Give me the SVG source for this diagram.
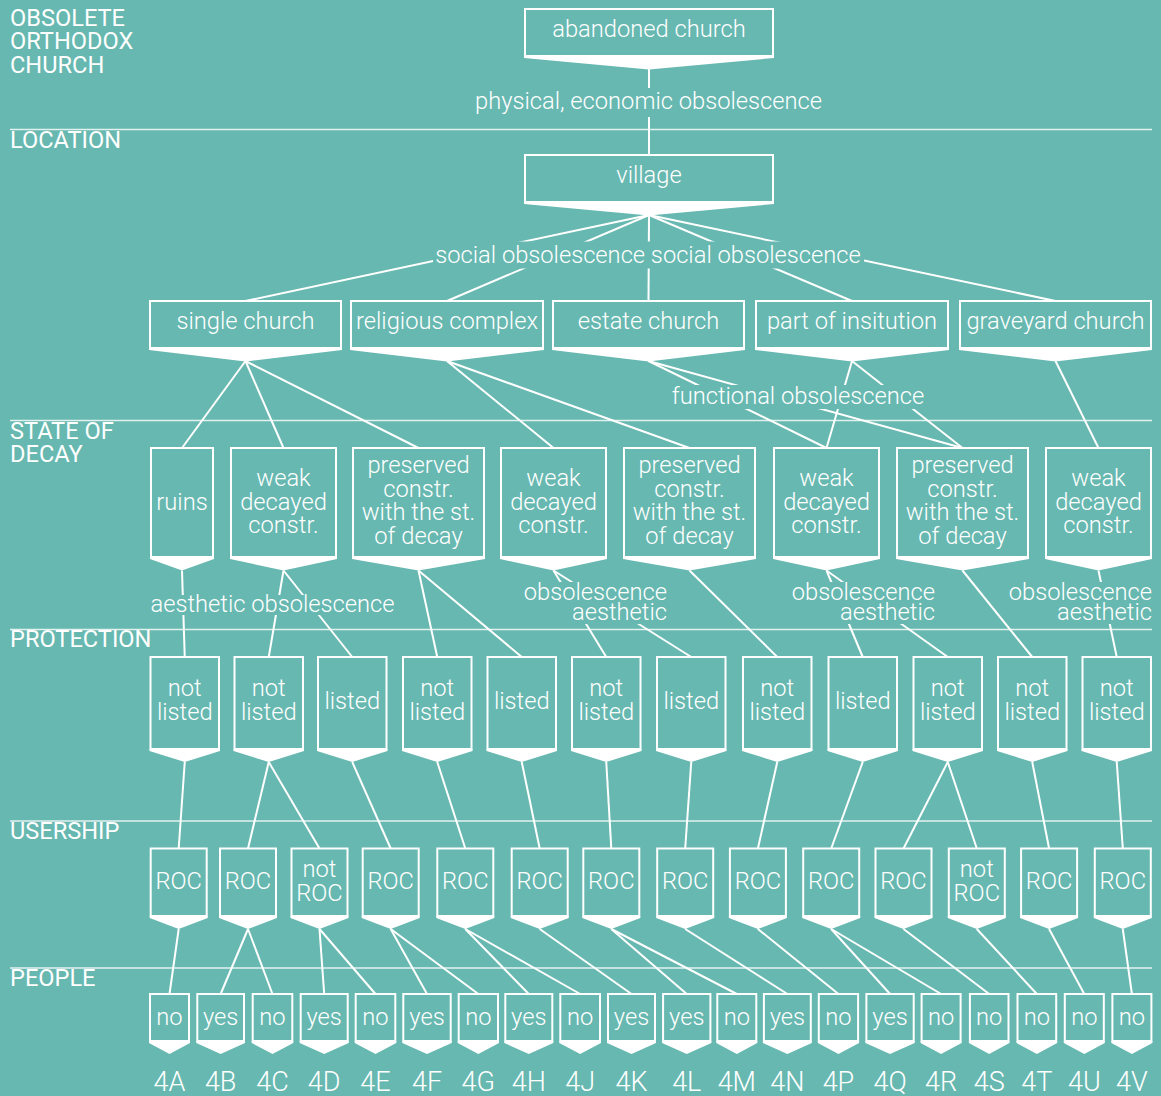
<svg xmlns="http://www.w3.org/2000/svg" width="1161" height="1096" viewBox="0 0 1161 1096">
  <style>
    .bg { fill: #67b8b0; }
    .rule { stroke: #ffffff; stroke-opacity: 0.8; stroke-width: 1.5; }
    .box { fill: none; stroke: #ffffff; stroke-width: 2; }
    .tip { fill: #ffffff; }
    .c line { stroke: #ffffff; stroke-width: 2; }
    .ko { fill: #67b8b0; }
    text { font-family: Roboto, "Liberation Sans", sans-serif; fill: #ffffff; }
    .sec { font-size: 23.6px; font-weight: 400; }
    .t { font-size: 23.7px; font-weight: 300; text-anchor: middle; }
    .el { font-size: 23.7px; font-weight: 300; }
    .code { font-size: 27px; font-weight: 300; text-anchor: middle; }
  </style>

  <rect class="bg" x="0" y="0" width="1161" height="1096"/>

  <!-- level rules and level names -->
  <g id="levels">
    <line class="rule" x1="10" y1="129.5" x2="1152" y2="129.5"/>
    <line class="rule" x1="10" y1="420.5" x2="1152" y2="420.5"/>
    <line class="rule" x1="10" y1="629.5" x2="1152" y2="629.5"/>
    <line class="rule" x1="10" y1="821" x2="1152" y2="821"/>
    <line class="rule" x1="10" y1="968" x2="1152" y2="968"/>
    <text class="sec" x="10" y="25.5">OBSOLETE</text>
    <text class="sec" x="10" y="49">ORTHODOX</text>
    <text class="sec" x="10" y="72.5">CHURCH</text>
    <text class="sec" x="10" y="148">LOCATION</text>
    <text class="sec" x="10" y="438.5">STATE OF</text>
    <text class="sec" x="10" y="462">DECAY</text>
    <text class="sec" x="10" y="647">PROTECTION</text>
    <text class="sec" x="10" y="838.5">USERSHIP</text>
    <text class="sec" x="10" y="985.5">PEOPLE</text>
  </g>

  <!-- connectors -->
  <g id="connectors" class="c">
    <line x1="649" y1="69" x2="649" y2="155"/>

    <line x1="649" y1="215" x2="245.5" y2="301"/>
    <line x1="649" y1="215" x2="447" y2="301"/>
    <line x1="649" y1="215" x2="648.5" y2="301"/>
    <line x1="649" y1="215" x2="852" y2="301"/>
    <line x1="649" y1="215" x2="1055.5" y2="301"/>

    <line x1="245.5" y1="361" x2="182" y2="448"/>
    <line x1="245.5" y1="361" x2="283.5" y2="448"/>
    <line x1="245.5" y1="361" x2="418.5" y2="448"/>
    <line x1="447" y1="361" x2="553.5" y2="448"/>
    <line x1="447" y1="361" x2="689.5" y2="448"/>
    <line x1="648.5" y1="361" x2="826.5" y2="448"/>
    <line x1="648.5" y1="361" x2="962.5" y2="448"/>
    <line x1="852" y1="361" x2="826.5" y2="448"/>
    <line x1="852" y1="361" x2="962.5" y2="448"/>
    <line x1="1055.5" y1="361" x2="1098.5" y2="448"/>

    <line x1="182" y1="570.5" x2="184.75" y2="657"/>
    <line x1="283.5" y1="570.5" x2="268.75" y2="657"/>
    <line x1="283.5" y1="570.5" x2="352.25" y2="657"/>
    <line x1="418.5" y1="570.5" x2="437.25" y2="657"/>
    <line x1="418.5" y1="570.5" x2="521.75" y2="657"/>
    <line x1="553.5" y1="570.5" x2="606.25" y2="657"/>
    <line x1="553.5" y1="570.5" x2="691.25" y2="657"/>
    <line x1="689.5" y1="570.5" x2="777.25" y2="657"/>
    <line x1="826.5" y1="570.5" x2="862.75" y2="657"/>
    <line x1="826.5" y1="570.5" x2="947.75" y2="657"/>
    <line x1="962.5" y1="570.5" x2="1032.25" y2="657"/>
    <line x1="1098.5" y1="570.5" x2="1116.75" y2="657"/>

    <line x1="184.75" y1="762" x2="178.7" y2="848.5"/>
    <line x1="268.75" y1="762" x2="248" y2="848.5"/>
    <line x1="268.75" y1="762" x2="319.5" y2="848.5"/>
    <line x1="352.25" y1="762" x2="390.7" y2="848.5"/>
    <line x1="437.25" y1="762" x2="465.3" y2="848.5"/>
    <line x1="521.75" y1="762" x2="539.7" y2="848.5"/>
    <line x1="606.25" y1="762" x2="611.3" y2="848.5"/>
    <line x1="691.25" y1="762" x2="685.2" y2="848.5"/>
    <line x1="777.25" y1="762" x2="757.9" y2="848.5"/>
    <line x1="862.75" y1="762" x2="831.2" y2="848.5"/>
    <line x1="947.75" y1="762" x2="903.5" y2="848.5"/>
    <line x1="947.75" y1="762" x2="976.8" y2="848.5"/>
    <line x1="1032.25" y1="762" x2="1049.1" y2="848.5"/>
    <line x1="1116.75" y1="762" x2="1122.8" y2="848.5"/>

    <line x1="178.7" y1="929" x2="169.5" y2="994"/>
    <line x1="248" y1="929" x2="220.65" y2="994"/>
    <line x1="248" y1="929" x2="272.5" y2="994"/>
    <line x1="319.5" y1="929" x2="324.2" y2="994"/>
    <line x1="319.5" y1="929" x2="375.5" y2="994"/>
    <line x1="390.7" y1="929" x2="427" y2="994"/>
    <line x1="390.7" y1="929" x2="478.35" y2="994"/>
    <line x1="465.3" y1="929" x2="528.8" y2="994"/>
    <line x1="465.3" y1="929" x2="580.15" y2="994"/>
    <line x1="539.7" y1="929" x2="631.5" y2="994"/>
    <line x1="611.3" y1="929" x2="686.75" y2="994"/>
    <line x1="611.3" y1="929" x2="736.8" y2="994"/>
    <line x1="685.2" y1="929" x2="787.35" y2="994"/>
    <line x1="757.9" y1="929" x2="838.45" y2="994"/>
    <line x1="831.2" y1="929" x2="890.05" y2="994"/>
    <line x1="831.2" y1="929" x2="941.1" y2="994"/>
    <line x1="903.5" y1="929" x2="989.2" y2="994"/>
    <line x1="976.8" y1="929" x2="1036.85" y2="994"/>
    <line x1="1049.1" y1="929" x2="1084.3" y2="994"/>
    <line x1="1122.8" y1="929" x2="1131.9" y2="994"/>
  </g>

  <!-- connector labels, each on a cut-out of the background -->
  <g id="connector-labels">
    <rect class="ko" x="474" y="88" width="349" height="29"/>
    <text class="el" x="648.5" y="109" text-anchor="middle">physical, economic obsolescence</text>

    <rect class="ko" x="433" y="241.5" width="431" height="27"/>
    <text class="el" x="648" y="263" text-anchor="middle">social obsolescence social obsolescence</text>

    <rect class="ko" x="671" y="385" width="254" height="24"/>
    <text class="el" x="798" y="404" text-anchor="middle">functional obsolescence</text>

    <rect class="ko" x="149" y="595" width="248" height="20"/>
    <text class="el" x="272.5" y="612" text-anchor="middle">aesthetic obsolescence</text>

    <rect class="ko" x="522" y="582" width="147" height="21"/>
    <rect class="ko" x="570" y="603" width="99" height="21"/>
    <text class="el" x="667" y="600" text-anchor="end">obsolescence</text>
    <text class="el" x="667" y="620" text-anchor="end">aesthetic</text>

    <rect class="ko" x="791" y="582" width="146" height="21"/>
    <rect class="ko" x="839" y="603" width="98" height="21"/>
    <text class="el" x="935" y="600" text-anchor="end">obsolescence</text>
    <text class="el" x="935" y="620" text-anchor="end">aesthetic</text>

    <rect class="ko" x="1008" y="582" width="146" height="21"/>
    <rect class="ko" x="1056" y="603" width="98" height="21"/>
    <text class="el" x="1152" y="600" text-anchor="end">obsolescence</text>
    <text class="el" x="1152" y="620" text-anchor="end">aesthetic</text>
  </g>

  <!-- OBSOLETE ORTHODOX CHURCH -->
  <g id="abandoned-church">
    <rect class="box" x="525" y="9" width="248" height="47"/>
    <polygon class="tip" points="524,56 774,56 774,58 649,69.5 524,58"/>
    <text class="t" x="649" y="37">abandoned church</text>
  </g>

  <!-- LOCATION -->
  <g id="village">
    <rect class="box" x="525" y="155" width="248" height="47"/>
    <polygon class="tip" points="524,202 774,202 774,204 649,215.5 524,204"/>
    <text class="t" x="649" y="183">village</text>
  </g>

  <g id="single-church">
    <rect class="box" x="150" y="301" width="191" height="47"/>
    <polygon class="tip" points="149,348 342,348 342,350 245.5,361.5 149,350"/>
    <text class="t" x="245.5" y="329">single church</text>
  </g>
  <g id="religious-complex">
    <rect class="box" x="351" y="301" width="192" height="47"/>
    <polygon class="tip" points="350,348 544,348 544,350 447,361.5 350,350"/>
    <text class="t" x="447" y="329">religious complex</text>
  </g>
  <g id="estate-church">
    <rect class="box" x="553" y="301" width="191" height="47"/>
    <polygon class="tip" points="552,348 745,348 745,350 648.5,361.5 552,350"/>
    <text class="t" x="648.5" y="329">estate church</text>
  </g>
  <g id="part-of-institution">
    <rect class="box" x="756" y="301" width="192" height="47"/>
    <polygon class="tip" points="755,348 949,348 949,350 852,361.5 755,350"/>
    <text class="t" x="852" y="329">part of insitution</text>
  </g>
  <g id="graveyard-church">
    <rect class="box" x="960" y="301" width="191" height="47"/>
    <polygon class="tip" points="959,348 1152,348 1152,350 1055.5,361.5 959,350"/>
    <text class="t" x="1055.5" y="329">graveyard church</text>
  </g>

  <!-- STATE OF DECAY -->
  <g id="ruins">
    <rect class="box" x="151" y="448" width="62" height="109"/>
    <polygon class="tip" points="150,557 214,557 214,559 182,570.5 150,559"/>
    <text class="t" x="182" y="509.5">ruins</text>
  </g>
  <g id="weak-1">
    <rect class="box" x="231" y="448" width="105" height="109"/>
    <polygon class="tip" points="230,557 337,557 337,559 283.5,570.5 230,559"/>
    <text class="t" x="283.5" y="486">weak<tspan x="283.5" y="509.5">decayed</tspan><tspan x="283.5" y="533">constr.</tspan></text>
  </g>
  <g id="preserved-1">
    <rect class="box" x="353" y="448" width="131" height="109"/>
    <polygon class="tip" points="352,557 485,557 485,559 418.5,570.5 352,559"/>
    <text class="t" x="418.5" y="473">preserved<tspan x="418.5" y="496.5">constr.</tspan><tspan x="418.5" y="520">with the st.</tspan><tspan x="418.5" y="543.5">of decay</tspan></text>
  </g>
  <g id="weak-2">
    <rect class="box" x="501" y="448" width="105" height="109"/>
    <polygon class="tip" points="500,557 607,557 607,559 553.5,570.5 500,559"/>
    <text class="t" x="553.5" y="486">weak<tspan x="553.5" y="509.5">decayed</tspan><tspan x="553.5" y="533">constr.</tspan></text>
  </g>
  <g id="preserved-2">
    <rect class="box" x="624" y="448" width="131" height="109"/>
    <polygon class="tip" points="623,557 756,557 756,559 689.5,570.5 623,559"/>
    <text class="t" x="689.5" y="473">preserved<tspan x="689.5" y="496.5">constr.</tspan><tspan x="689.5" y="520">with the st.</tspan><tspan x="689.5" y="543.5">of decay</tspan></text>
  </g>
  <g id="weak-3">
    <rect class="box" x="774" y="448" width="105" height="109"/>
    <polygon class="tip" points="773,557 880,557 880,559 826.5,570.5 773,559"/>
    <text class="t" x="826.5" y="486">weak<tspan x="826.5" y="509.5">decayed</tspan><tspan x="826.5" y="533">constr.</tspan></text>
  </g>
  <g id="preserved-3">
    <rect class="box" x="897" y="448" width="131" height="109"/>
    <polygon class="tip" points="896,557 1029,557 1029,559 962.5,570.5 896,559"/>
    <text class="t" x="962.5" y="473">preserved<tspan x="962.5" y="496.5">constr.</tspan><tspan x="962.5" y="520">with the st.</tspan><tspan x="962.5" y="543.5">of decay</tspan></text>
  </g>
  <g id="weak-4">
    <rect class="box" x="1046" y="448" width="105" height="109"/>
    <polygon class="tip" points="1045,557 1152,557 1152,559 1098.5,570.5 1045,559"/>
    <text class="t" x="1098.5" y="486">weak<tspan x="1098.5" y="509.5">decayed</tspan><tspan x="1098.5" y="533">constr.</tspan></text>
  </g>

  <!-- PROTECTION -->
  <g id="protection-1">
    <rect class="box" x="150.5" y="657" width="68.5" height="92"/>
    <polygon class="tip" points="149.5,749 220,749 220,751 184.75,762 149.5,751"/>
    <text class="t" x="184.75" y="696">not<tspan x="184.75" y="719.5">listed</tspan></text>
  </g>
  <g id="protection-2">
    <rect class="box" x="234.5" y="657" width="68.5" height="92"/>
    <polygon class="tip" points="233.5,749 304,749 304,751 268.75,762 233.5,751"/>
    <text class="t" x="268.75" y="696">not<tspan x="268.75" y="719.5">listed</tspan></text>
  </g>
  <g id="protection-3">
    <rect class="box" x="318" y="657" width="68.5" height="92"/>
    <polygon class="tip" points="317,749 387.5,749 387.5,751 352.25,762 317,751"/>
    <text class="t" x="352.25" y="709">listed</text>
  </g>
  <g id="protection-4">
    <rect class="box" x="403" y="657" width="68.5" height="92"/>
    <polygon class="tip" points="402,749 472.5,749 472.5,751 437.25,762 402,751"/>
    <text class="t" x="437.25" y="696">not<tspan x="437.25" y="719.5">listed</tspan></text>
  </g>
  <g id="protection-5">
    <rect class="box" x="487.5" y="657" width="68.5" height="92"/>
    <polygon class="tip" points="486.5,749 557,749 557,751 521.75,762 486.5,751"/>
    <text class="t" x="521.75" y="709">listed</text>
  </g>
  <g id="protection-6">
    <rect class="box" x="572" y="657" width="68.5" height="92"/>
    <polygon class="tip" points="571,749 641.5,749 641.5,751 606.25,762 571,751"/>
    <text class="t" x="606.25" y="696">not<tspan x="606.25" y="719.5">listed</tspan></text>
  </g>
  <g id="protection-7">
    <rect class="box" x="657" y="657" width="68.5" height="92"/>
    <polygon class="tip" points="656,749 726.5,749 726.5,751 691.25,762 656,751"/>
    <text class="t" x="691.25" y="709">listed</text>
  </g>
  <g id="protection-8">
    <rect class="box" x="743" y="657" width="68.5" height="92"/>
    <polygon class="tip" points="742,749 812.5,749 812.5,751 777.25,762 742,751"/>
    <text class="t" x="777.25" y="696">not<tspan x="777.25" y="719.5">listed</tspan></text>
  </g>
  <g id="protection-9">
    <rect class="box" x="828.5" y="657" width="68.5" height="92"/>
    <polygon class="tip" points="827.5,749 898,749 898,751 862.75,762 827.5,751"/>
    <text class="t" x="862.75" y="709">listed</text>
  </g>
  <g id="protection-10">
    <rect class="box" x="913.5" y="657" width="68.5" height="92"/>
    <polygon class="tip" points="912.5,749 983,749 983,751 947.75,762 912.5,751"/>
    <text class="t" x="947.75" y="696">not<tspan x="947.75" y="719.5">listed</tspan></text>
  </g>
  <g id="protection-11">
    <rect class="box" x="998" y="657" width="68.5" height="92"/>
    <polygon class="tip" points="997,749 1067.5,749 1067.5,751 1032.25,762 997,751"/>
    <text class="t" x="1032.25" y="696">not<tspan x="1032.25" y="719.5">listed</tspan></text>
  </g>
  <g id="protection-12">
    <rect class="box" x="1082.5" y="657" width="68.5" height="92"/>
    <polygon class="tip" points="1081.5,749 1152,749 1152,751 1116.75,762 1081.5,751"/>
    <text class="t" x="1116.75" y="696">not<tspan x="1116.75" y="719.5">listed</tspan></text>
  </g>

  <!-- USERSHIP -->
  <g id="usership-1">
    <rect class="box" x="150.7" y="848.5" width="56" height="67.5"/>
    <polygon class="tip" points="149.7,916 207.7,916 207.7,918 178.7,929 149.7,918"/>
    <text class="t" x="178.7" y="889">ROC</text>
  </g>
  <g id="usership-2">
    <rect class="box" x="220" y="848.5" width="56" height="67.5"/>
    <polygon class="tip" points="219,916 277,916 277,918 248,929 219,918"/>
    <text class="t" x="248" y="889">ROC</text>
  </g>
  <g id="usership-3">
    <rect class="box" x="291.5" y="848.5" width="56" height="67.5"/>
    <polygon class="tip" points="290.5,916 348.5,916 348.5,918 319.5,929 290.5,918"/>
    <text class="t" x="319.5" y="877">not<tspan x="319.5" y="900.5">ROC</tspan></text>
  </g>
  <g id="usership-4">
    <rect class="box" x="362.7" y="848.5" width="56" height="67.5"/>
    <polygon class="tip" points="361.7,916 419.7,916 419.7,918 390.7,929 361.7,918"/>
    <text class="t" x="390.7" y="889">ROC</text>
  </g>
  <g id="usership-5">
    <rect class="box" x="437.3" y="848.5" width="56" height="67.5"/>
    <polygon class="tip" points="436.3,916 494.3,916 494.3,918 465.3,929 436.3,918"/>
    <text class="t" x="465.3" y="889">ROC</text>
  </g>
  <g id="usership-6">
    <rect class="box" x="511.7" y="848.5" width="56" height="67.5"/>
    <polygon class="tip" points="510.7,916 568.7,916 568.7,918 539.7,929 510.7,918"/>
    <text class="t" x="539.7" y="889">ROC</text>
  </g>
  <g id="usership-7">
    <rect class="box" x="583.3" y="848.5" width="56" height="67.5"/>
    <polygon class="tip" points="582.3,916 640.3,916 640.3,918 611.3,929 582.3,918"/>
    <text class="t" x="611.3" y="889">ROC</text>
  </g>
  <g id="usership-8">
    <rect class="box" x="657.2" y="848.5" width="56" height="67.5"/>
    <polygon class="tip" points="656.2,916 714.2,916 714.2,918 685.2,929 656.2,918"/>
    <text class="t" x="685.2" y="889">ROC</text>
  </g>
  <g id="usership-9">
    <rect class="box" x="729.9" y="848.5" width="56" height="67.5"/>
    <polygon class="tip" points="728.9,916 786.9,916 786.9,918 757.9,929 728.9,918"/>
    <text class="t" x="757.9" y="889">ROC</text>
  </g>
  <g id="usership-10">
    <rect class="box" x="803.2" y="848.5" width="56" height="67.5"/>
    <polygon class="tip" points="802.2,916 860.2,916 860.2,918 831.2,929 802.2,918"/>
    <text class="t" x="831.2" y="889">ROC</text>
  </g>
  <g id="usership-11">
    <rect class="box" x="875.5" y="848.5" width="56" height="67.5"/>
    <polygon class="tip" points="874.5,916 932.5,916 932.5,918 903.5,929 874.5,918"/>
    <text class="t" x="903.5" y="889">ROC</text>
  </g>
  <g id="usership-12">
    <rect class="box" x="948.8" y="848.5" width="56" height="67.5"/>
    <polygon class="tip" points="947.8,916 1005.8,916 1005.8,918 976.8,929 947.8,918"/>
    <text class="t" x="976.8" y="877">not<tspan x="976.8" y="900.5">ROC</tspan></text>
  </g>
  <g id="usership-13">
    <rect class="box" x="1021.1" y="848.5" width="56" height="67.5"/>
    <polygon class="tip" points="1020.1,916 1078.1,916 1078.1,918 1049.1,929 1020.1,918"/>
    <text class="t" x="1049.1" y="889">ROC</text>
  </g>
  <g id="usership-14">
    <rect class="box" x="1094.8" y="848.5" width="56" height="67.5"/>
    <polygon class="tip" points="1093.8,916 1151.8,916 1151.8,918 1122.8,929 1093.8,918"/>
    <text class="t" x="1122.8" y="889">ROC</text>
  </g>

  <!-- PEOPLE -->
  <g id="case-4A">
    <rect class="box" x="150" y="994" width="39" height="47"/>
    <polygon class="tip" points="149,1041 190,1041 190,1043 169.5,1054 149,1043"/>
    <text class="t" x="169.5" y="1025">no</text>
    <text class="code" x="169.5" y="1091">4A</text>
  </g>
  <g id="case-4B">
    <rect class="box" x="197.3" y="994" width="46.7" height="47"/>
    <polygon class="tip" points="196.3,1041 245,1041 245,1043 220.65,1054 196.3,1043"/>
    <text class="t" x="220.65" y="1025">yes</text>
    <text class="code" x="220.65" y="1091">4B</text>
  </g>
  <g id="case-4C">
    <rect class="box" x="252.7" y="994" width="39.6" height="47"/>
    <polygon class="tip" points="251.7,1041 293.3,1041 293.3,1043 272.5,1054 251.7,1043"/>
    <text class="t" x="272.5" y="1025">no</text>
    <text class="code" x="272.5" y="1091">4C</text>
  </g>
  <g id="case-4D">
    <rect class="box" x="300.7" y="994" width="47" height="47"/>
    <polygon class="tip" points="299.7,1041 348.7,1041 348.7,1043 324.2,1054 299.7,1043"/>
    <text class="t" x="324.2" y="1025">yes</text>
    <text class="code" x="324.2" y="1091">4D</text>
  </g>
  <g id="case-4E">
    <rect class="box" x="355.7" y="994" width="39.6" height="47"/>
    <polygon class="tip" points="354.7,1041 396.3,1041 396.3,1043 375.5,1054 354.7,1043"/>
    <text class="t" x="375.5" y="1025">no</text>
    <text class="code" x="375.5" y="1091">4E</text>
  </g>
  <g id="case-4F">
    <rect class="box" x="403.3" y="994" width="47.4" height="47"/>
    <polygon class="tip" points="402.3,1041 451.7,1041 451.7,1043 427,1054 402.3,1043"/>
    <text class="t" x="427" y="1025">yes</text>
    <text class="code" x="427" y="1091">4F</text>
  </g>
  <g id="case-4G">
    <rect class="box" x="458.7" y="994" width="39.3" height="47"/>
    <polygon class="tip" points="457.7,1041 499,1041 499,1043 478.35,1054 457.7,1043"/>
    <text class="t" x="478.35" y="1025">no</text>
    <text class="code" x="478.35" y="1091">4G</text>
  </g>
  <g id="case-4H">
    <rect class="box" x="505.3" y="994" width="47" height="47"/>
    <polygon class="tip" points="504.3,1041 553.3,1041 553.3,1043 528.8,1054 504.3,1043"/>
    <text class="t" x="528.8" y="1025">yes</text>
    <text class="code" x="528.8" y="1091">4H</text>
  </g>
  <g id="case-4J">
    <rect class="box" x="560.3" y="994" width="39.7" height="47"/>
    <polygon class="tip" points="559.3,1041 601,1041 601,1043 580.15,1054 559.3,1043"/>
    <text class="t" x="580.15" y="1025">no</text>
    <text class="code" x="580.15" y="1091">4J</text>
  </g>
  <g id="case-4K">
    <rect class="box" x="608" y="994" width="47" height="47"/>
    <polygon class="tip" points="607,1041 656,1041 656,1043 631.5,1054 607,1043"/>
    <text class="t" x="631.5" y="1025">yes</text>
    <text class="code" x="631.5" y="1091">4K</text>
  </g>
  <g id="case-4L">
    <rect class="box" x="663.1" y="994" width="47.3" height="47"/>
    <polygon class="tip" points="662.1,1041 711.4,1041 711.4,1043 686.75,1054 662.1,1043"/>
    <text class="t" x="686.75" y="1025">yes</text>
    <text class="code" x="686.75" y="1091">4L</text>
  </g>
  <g id="case-4M">
    <rect class="box" x="717.3" y="994" width="39" height="47"/>
    <polygon class="tip" points="716.3,1041 757.3,1041 757.3,1043 736.8,1054 716.3,1043"/>
    <text class="t" x="736.8" y="1025">no</text>
    <text class="code" x="736.8" y="1091">4M</text>
  </g>
  <g id="case-4N">
    <rect class="box" x="763.9" y="994" width="46.9" height="47"/>
    <polygon class="tip" points="762.9,1041 811.8,1041 811.8,1043 787.35,1054 762.9,1043"/>
    <text class="t" x="787.35" y="1025">yes</text>
    <text class="code" x="787.35" y="1091">4N</text>
  </g>
  <g id="case-4P">
    <rect class="box" x="818.8" y="994" width="39.3" height="47"/>
    <polygon class="tip" points="817.8,1041 859.1,1041 859.1,1043 838.45,1054 817.8,1043"/>
    <text class="t" x="838.45" y="1025">no</text>
    <text class="code" x="838.45" y="1091">4P</text>
  </g>
  <g id="case-4Q">
    <rect class="box" x="866.4" y="994" width="47.3" height="47"/>
    <polygon class="tip" points="865.4,1041 914.7,1041 914.7,1043 890.05,1054 865.4,1043"/>
    <text class="t" x="890.05" y="1025">yes</text>
    <text class="code" x="890.05" y="1091">4Q</text>
  </g>
  <g id="case-4R">
    <rect class="box" x="921.6" y="994" width="39" height="47"/>
    <polygon class="tip" points="920.6,1041 961.6,1041 961.6,1043 941.1,1054 920.6,1043"/>
    <text class="t" x="941.1" y="1025">no</text>
    <text class="code" x="941.1" y="1091">4R</text>
  </g>
  <g id="case-4S">
    <rect class="box" x="969.9" y="994" width="38.6" height="47"/>
    <polygon class="tip" points="968.9,1041 1009.5,1041 1009.5,1043 989.2,1054 968.9,1043"/>
    <text class="t" x="989.2" y="1025">no</text>
    <text class="code" x="989.2" y="1091">4S</text>
  </g>
  <g id="case-4T">
    <rect class="box" x="1017.5" y="994" width="38.7" height="47"/>
    <polygon class="tip" points="1016.5,1041 1057.2,1041 1057.2,1043 1036.85,1054 1016.5,1043"/>
    <text class="t" x="1036.85" y="1025">no</text>
    <text class="code" x="1036.85" y="1091">4T</text>
  </g>
  <g id="case-4U">
    <rect class="box" x="1064.8" y="994" width="39" height="47"/>
    <polygon class="tip" points="1063.8,1041 1104.8,1041 1104.8,1043 1084.3,1054 1063.8,1043"/>
    <text class="t" x="1084.3" y="1025">no</text>
    <text class="code" x="1084.3" y="1091">4U</text>
  </g>
  <g id="case-4V">
    <rect class="box" x="1112.4" y="994" width="39" height="47"/>
    <polygon class="tip" points="1111.4,1041 1152.4,1041 1152.4,1043 1131.9,1054 1111.4,1043"/>
    <text class="t" x="1131.9" y="1025">no</text>
    <text class="code" x="1131.9" y="1091">4V</text>
  </g>
</svg>
